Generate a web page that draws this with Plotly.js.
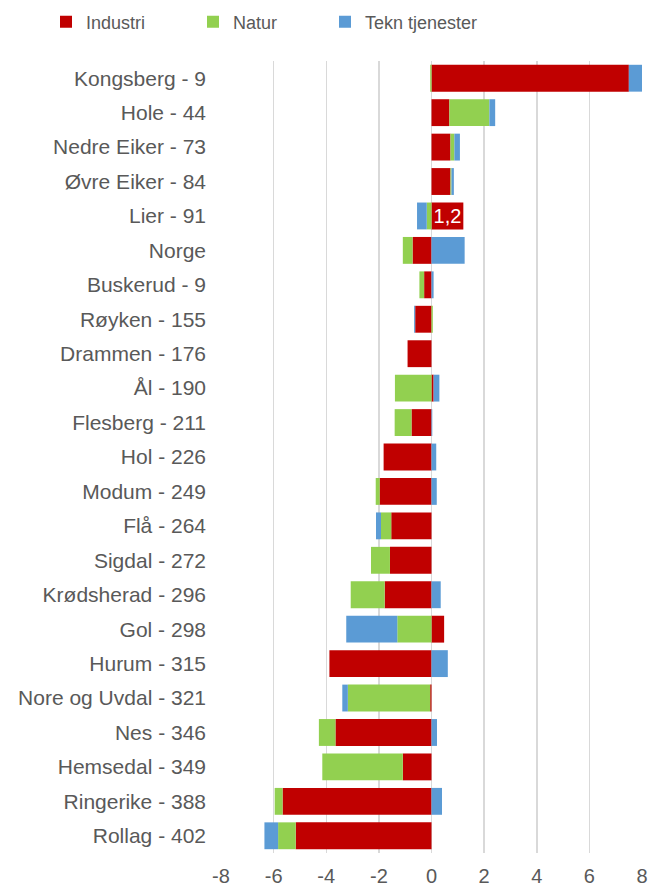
<!DOCTYPE html>
<html>
<head>
<meta charset="utf-8">
<script src="https://cdn.plot.ly/plotly-3.0.1.min.js"></script>
<style>html,body{margin:0;padding:0;background:#fff;} #chart{width:648px;height:889px;}</style>
</head>
<body>
<div id="chart"></div>
<script>
const categories = ["Kongsberg - 9","Hole - 44","Nedre Eiker - 73","Øvre Eiker - 84","Lier - 91","Norge","Buskerud - 9","Røyken - 155","Drammen - 176","Ål - 190","Flesberg - 211","Hol - 226","Modum - 249","Flå - 264","Sigdal - 272","Krødsherad - 296","Gol - 298","Hurum - 315","Nore og Uvdal - 321","Nes - 346","Hemsedal - 349","Ringerike - 388","Rollag - 402"];
const industri = [7.5, 0.68, 0.72, 0.72, 1.21, -0.72, -0.28, -0.62, -0.91, 0.08, -0.76, -1.82, -1.97, -1.53, -1.58, -1.78, 0.48, -3.88, -0.05, -3.65, -1.09, -5.66, -5.16];
const natur = [-0.05, 1.52, 0.15, 0.04, -0.18, -0.37, -0.18, 0.05, 0, -1.39, -0.64, 0, -0.15, -0.39, -0.72, -1.29, -1.3, 0, -3.13, -0.63, -3.06, -0.3, -0.67];
const tekn = [0.5, 0.22, 0.21, 0.09, -0.37, 1.26, 0.08, -0.04, 0, 0.22, 0.03, 0.18, 0.2, -0.19, 0, 0.35, -1.94, 0.62, -0.21, 0.21, 0, 0.4, -0.52];
const seriesNames = ["Industri", "Natur", "Tekn tjenester"];
const seriesColors = ["#c00000", "#92d050", "#5b9bd5"];
const labelledCategories = ["Lier - 91"];
const xTicks = [-8, -6, -4, -2, 0, 2, 4, 6, 8];

const industriText = categories.map((c, i) => labelledCategories.includes(c) ? industri[i].toFixed(1).replace('.', ',') : '');

const textColor = '#595959';
const baseFont = 'Liberation Sans, Arial, sans-serif';

const traces = [
  {type:'bar', orientation:'h', name:seriesNames[0], y:categories, x:industri, marker:{color:seriesColors[0]},
   text:industriText, textposition:'inside', insidetextanchor:'middle', textangle:0, constraintext:'none',
   textfont:{color:'#ffffff', size:20, family:baseFont}, legend:'legend', hoverinfo:'x+name'},
  {type:'bar', orientation:'h', name:seriesNames[1], y:categories, x:natur, marker:{color:seriesColors[1]}, legend:'legend2', hoverinfo:'x+name'},
  {type:'bar', orientation:'h', name:seriesNames[2], y:categories, x:tekn, marker:{color:seriesColors[2]}, legend:'legend3', hoverinfo:'x+name'}
];

const legendBase = {orientation:'h', xref:'container', yref:'container', xanchor:'left', yanchor:'middle', y:1-22/889,
  font:{family:baseFont, size:18, color:textColor}, bgcolor:'rgba(0,0,0,0)', borderwidth:0};

const layout = {
  width:648, height:889,
  margin:{l:221, r:6, t:61, b:36, pad:0},
  paper_bgcolor:'#ffffff', plot_bgcolor:'#ffffff',
  font:{family:baseFont, size:21, color:textColor},
  barmode:'relative', bargap:0.22,
  separators:',.',
  showlegend:true,
  legend:Object.assign({}, legendBase, {x:46/648}),
  legend2:Object.assign({}, legendBase, {x:193/648}),
  legend3:Object.assign({}, legendBase, {x:325/648}),
  xaxis:{range:[-8,8], tickvals:xTicks, ticktext:xTicks.map(String), showgrid:true, gridcolor:'#d9d9d9', gridwidth:1.5,
    zeroline:true, zerolinecolor:'#d9d9d9', zerolinewidth:1.5, showline:false, ticks:'', ticklabelstandoff:9,
    tickfont:{family:baseFont, size:20, color:textColor}, fixedrange:true},
  yaxis:{type:'category', autorange:'reversed', showgrid:false, zeroline:false, showline:false, ticks:'', ticklabelstandoff:14,
    tickfont:{family:baseFont, size:21, color:textColor}, fixedrange:true}
};

Plotly.newPlot('chart', traces, layout, {displayModeBar:false, staticPlot:true});
</script>
</body>
</html>
